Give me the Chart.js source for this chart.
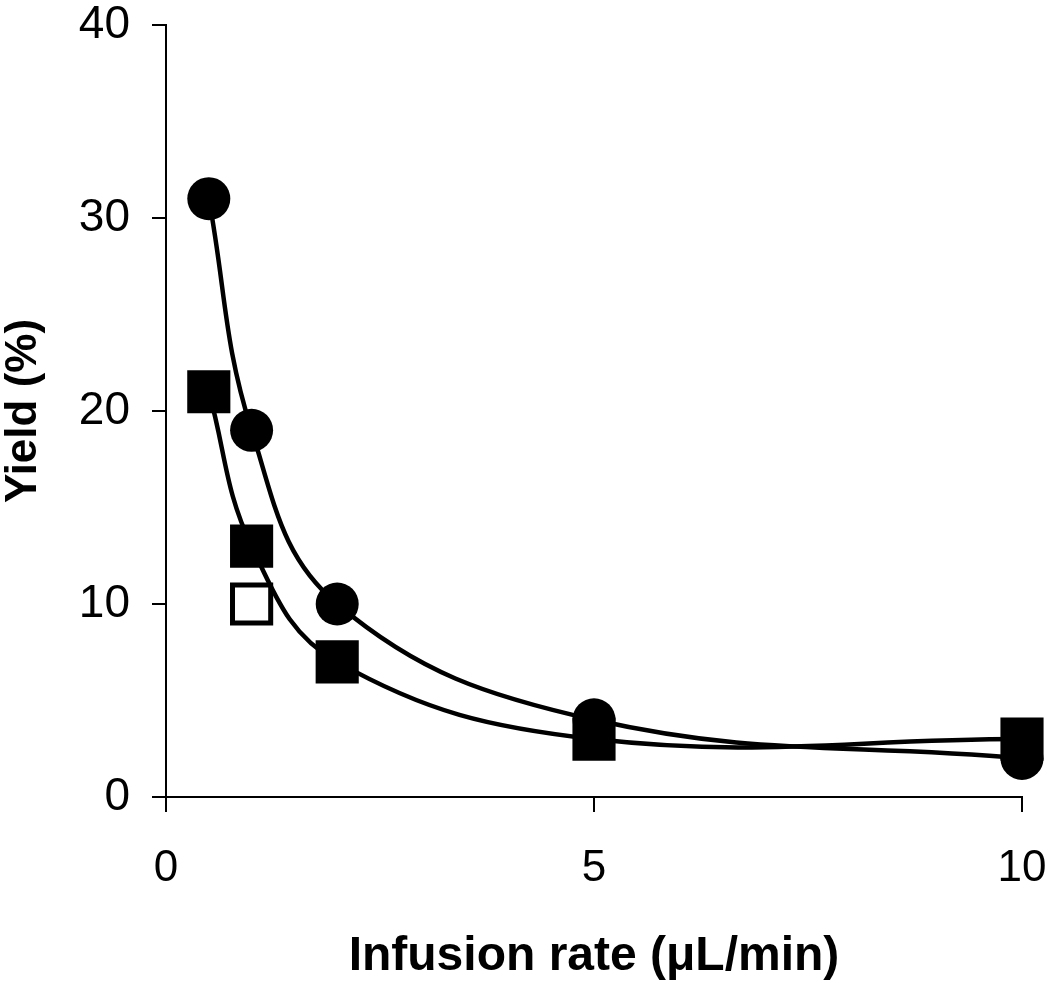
<!DOCTYPE html>
<html>
<head>
<meta charset="utf-8">
<script src="https://cdn.jsdelivr.net/npm/chart.js@4/dist/chart.umd.min.js"></script>
<style>
  body { margin: 0; background: #fff; }
  #wrap { width: 1050px; height: 986px; }
</style>
</head>
<body>
<div id="wrap"><canvas id="myChart"></canvas></div>
<script>
// infusion rate (uL/min)
const rates = [0.5, 1, 2, 5, 10];
// yield (%) per series
const circleYield = [31, 19, 10, 4, 2];
const squareYield = [21, 13, 7, 3, 3];
// single open square point
const openRate = [1];
const openYield = [10];

const xTicks = [0, 5, 10];
const yTicks = [0, 10, 20, 30, 40];

function toPoints(xs, ys) {
  return xs.map((x, i) => ({ x: x, y: ys[i] }));
}

const divChart = document.getElementById("myChart");

const myChart = new Chart(divChart, {
  type: "scatter",
  data: {
    datasets: [
      {
        label: "circles",
        data: toPoints(rates, circleYield),
        showLine: true,
        clip: false,
        borderColor: "#000",
        borderWidth: 4.5,
        tension: 0.4,
        pointStyle: "circle",
        pointRadius: 21.5,
        pointBackgroundColor: "#000",
        pointBorderWidth: 0,
      },
      {
        label: "squares",
        data: toPoints(rates, squareYield),
        showLine: true,
        clip: false,
        borderColor: "#000",
        borderWidth: 4.5,
        tension: 0.4,
        pointStyle: "rect",
        pointRadius: 30.5,
        pointBackgroundColor: "#000",
        pointBorderWidth: 0,
      },
      {
        label: "open",
        data: toPoints(openRate, openYield),
        showLine: false,
        clip: false,
        pointStyle: "rect",
        pointRadius: 27,
        pointBackgroundColor: "#fff",
        pointBorderColor: "#000",
        pointBorderWidth: 5,
      },
    ],
  },
  options: {
    responsive: true,
    maintainAspectRatio: false,
    animation: false,
    devicePixelRatio: 1,
    layout: { autoPadding: false, padding: { left: 0, right: 28, top: 25, bottom: 0 } },
    plugins: { legend: { display: false }, tooltip: { enabled: false } },
    scales: {
      x: {
        type: "linear",
        min: 0,
        max: 10,
        afterBuildTicks: (scale) => {
          scale.ticks = xTicks.map((v) => ({ value: v }));
        },
        afterFit: (scale) => {
          scale.height = 189;
          scale.paddingLeft = 0;
          scale.paddingRight = 0;
        },
        border: { display: true, color: "#000", width: 2 },
        grid: { drawOnChartArea: false, drawTicks: true, tickLength: 15, color: "#000", lineWidth: 2 },
        ticks: {
          color: "#000",
          padding: 30,
          maxRotation: 0,
          font: { family: "Liberation Sans", size: 44 },
        },
        title: {
          display: true,
          text: "Infusion rate (\u03bcL/min)",
          color: "#000",
          padding: 0,
          font: { family: "Liberation Sans", size: 48, weight: "bold", lineHeight: 1.2 },
        },
      },
      y: {
        type: "linear",
        min: 0,
        max: 40,
        afterBuildTicks: (scale) => {
          scale.ticks = yTicks.map((v) => ({ value: v }));
        },
        afterFit: (scale) => {
          scale.width = 166;
          scale.paddingTop = 0;
          scale.paddingBottom = 0;
        },
        border: { display: true, color: "#000", width: 2 },
        grid: { drawOnChartArea: false, drawTicks: true, tickLength: 14, color: "#000", lineWidth: 2 },
        ticks: {
          color: "#000",
          padding: 22,
          font: { family: "Liberation Sans", size: 46 },
        },
        title: {
          display: true,
          text: "Yield (%)",
          color: "#000",
          padding: 0,
          font: { family: "Liberation Sans", size: 44, weight: "bold", lineHeight: 1.1 },
        },
      },
    },
  },
});
</script>
</body>
</html>
